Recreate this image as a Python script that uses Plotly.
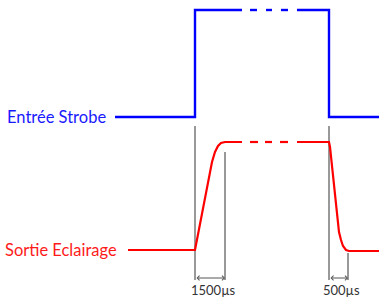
import plotly.graph_objects as go

# Diagram coordinates (x = time axis units, y = vertical position units, top = 0)
strobe_x = [115, 195, 195, 242, None, 250, 257, None, 266, 272, None, 281, 288, None, 297, 329, 329, 379]
strobe_y = [117, 117, 10, 10, None, 10, 10, None, 10, 10, None, 10, 10, None, 10, 10, 117, 117]

light_rise_x = [128, 195, 212, 215, 218, 221, 225, 242]
light_rise_y = [250, 250, 162, 152, 146, 143, 142, 142]
light_mid_x = [250, 258, None, 265, 272, None, 280, 288]
light_mid_y = [142, 142, None, 142, 142, None, 142, 142]
light_fall_x = [297, 329, 330, 339, 341, 343, 346, 349, 379]
light_fall_y = [142, 142, 147, 232, 240, 246, 250, 251, 251]

marker_x = [195, 195, None, 329, 329, None, 225, 225, None, 348, 348]
marker_y = [126, 280, None, 126, 280, None, 152, 280, None, 253, 280]

spans = [(195, 225, "1500µs"), (329, 348, "500µs")]
span_y = 278
label_y = 290

fig = go.Figure()
fig.add_trace(go.Scatter(x=marker_x, y=marker_y, mode="lines",
                         line=dict(color="#555555", width=1.2), hoverinfo="skip"))
fig.add_trace(go.Scatter(x=strobe_x, y=strobe_y, mode="lines",
                         line=dict(color="#0000ff", width=2.4), hoverinfo="skip"))
for xs, ys in [(light_rise_x, light_rise_y), (light_mid_x, light_mid_y), (light_fall_x, light_fall_y)]:
    fig.add_trace(go.Scatter(x=xs, y=ys, mode="lines",
                             line=dict(color="#ff0000", width=2.2), hoverinfo="skip"))

for x0, x1, txt in spans:
    fig.add_annotation(x=x1, y=span_y, ax=x0, ay=span_y, axref="x", ayref="y",
                       xref="x", yref="y", text="", showarrow=True,
                       arrowside="end+start", arrowhead=4, arrowsize=0.9,
                       arrowwidth=1, arrowcolor="#555555")
    fig.add_annotation(x=(x0 + x1) / 2 + 3, y=label_y, text=txt, showarrow=False,
                       xanchor="center", yanchor="middle",
                       font=dict(family="Lato", size=13, color="#333333"))

fig.add_annotation(x=108, y=117, text="Entrée Strobe", showarrow=False,
                   xanchor="right", yanchor="middle",
                   font=dict(family="Lato", size=16.5, color="#1a1aff"))
fig.add_annotation(x=119, y=250, text="Sortie Eclairage", showarrow=False,
                   xanchor="right", yanchor="middle",
                   font=dict(family="Lato", size=16.5, color="#ff1a1a"))

fig.update_layout(width=379, height=297, margin=dict(l=0, r=0, t=0, b=0),
                  paper_bgcolor="white", plot_bgcolor="white", showlegend=False)
fig.update_xaxes(range=[0, 379], visible=False)
fig.update_yaxes(range=[297, 0], visible=False)
fig.write_html("out.html", config={"displayModeBar": False, "staticPlot": True},
               post_script="document.body.style.margin='0';document.body.style.overflow='hidden';")
